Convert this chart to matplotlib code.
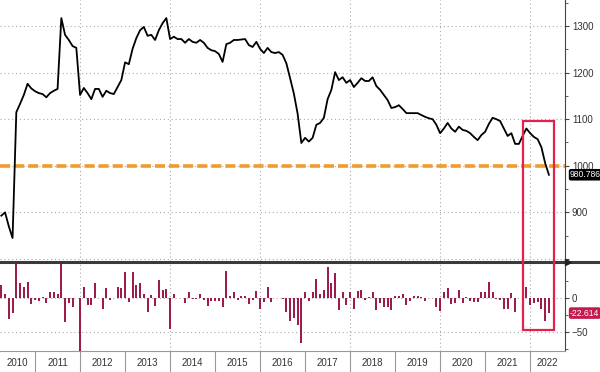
import matplotlib.pyplot as plt
import matplotlib.transforms as mtransforms
from matplotlib.patches import Rectangle
from matplotlib.lines import Line2D
import numpy as np

plt.rcParams['font.family'] = ['Liberation Sans', 'DejaVu Sans']

# months counted from Jan 2010 (0); series starts in April 2010
first_month = 3
index_level = [
    893, 900, 870, 845, 1115, 1133, 1152, 1176, 1166, 1160,
    1156, 1154, 1147, 1156, 1161, 1165, 1317, 1281, 1270, 1257,
    1253, 1152, 1167, 1156, 1143, 1165, 1165, 1148, 1161, 1156,
    1154, 1169, 1184, 1222, 1218, 1251, 1274, 1291, 1298, 1279,
    1281, 1270, 1291, 1306, 1317, 1272, 1277, 1272, 1272, 1264,
    1272, 1266, 1264, 1270, 1264, 1253, 1248, 1246, 1240, 1223,
    1261, 1264, 1270, 1270, 1271, 1272, 1259, 1255, 1266, 1251,
    1242, 1253, 1244, 1242, 1244, 1238, 1220, 1188, 1155, 1112,
    1049, 1060, 1052, 1060, 1088, 1092, 1103, 1143, 1163, 1201,
    1184, 1190, 1178, 1184, 1169, 1178, 1188, 1182, 1182, 1190,
    1171, 1163, 1152, 1141, 1124, 1126, 1130, 1122, 1113, 1113,
    1113, 1113, 1109, 1105, 1102, 1100, 1088, 1070, 1080, 1092,
    1080, 1073, 1084, 1077, 1075, 1070, 1062, 1055, 1066, 1073,
    1090, 1103, 1100, 1096, 1080, 1064, 1070, 1047, 1047, 1064,
    1080, 1070, 1062, 1057, 1040, 1006, 980.786,
]
monthly_change = [
    18, 5, -31, -23, 270, 21, 15, 23, -10, -4,
    -5, 1, -8, 8, 8, 5, 152, -36, -8, -14,
    -1, -100, 15, -11, -11, 21, 0, -17, 14, -3,
    -1, 16, 14, 38, -6, 38, 19, 21, 6, -21,
    4, -12, 26, 12, 13, -46, 5, -1, 0, -8,
    9, -2, -2, 6, -3, -12, -5, -5, -5, -14,
    39, 3, 8, -3, 2, 3, -10, -3, 10, -17,
    -7, 15, -6, 0, 0, -2, -21, -34, -30, -40,
    -66, 9, -5, 9, 28, 5, 11, 45, 22, 36,
    -18, 8, -11, 9, -16, 10, 11, -4, 1, 9,
    -18, -8, -13, -13, -18, 3, 3, 5, -11, -5,
    3, 2, 1, -5, 0, 0, -13, -19, 9, 14,
    -10, -8, 11, -8, 1, -5, -6, -6, 8, 9,
    23, 8, -2, -4, -16, -16, 7, -21, 0, 18,
    15, -11, -8, -6, -16, -35, -22.614,
]
years = list(range(2010, 2023))
trend_level = 1000
highlight_months = (142.2, 150.4)
highlight_top = 1097
highlight_bottom = -47.5

months = np.arange(first_month, first_month + len(index_level))
xmin, xmax = 2.65, 153.3

grid_kw = dict(color='#aaaaaa', lw=0.8, dashes=(1, 2.5))
tick_color = '#333333'

fig = plt.figure(figsize=(6, 3.72), dpi=100)
ax = fig.add_axes([0, 0.2984, 0.9417, 0.7016])
axb = fig.add_axes([0, 0.0565, 0.9417, 0.2392])

for a in (ax, axb):
    a.set_xlim(xmin, xmax)
    for s in ('top', 'left', 'bottom'):
        a.spines[s].set_visible(False)
    a.spines['right'].set_color('#444444')
    a.spines['right'].set_linewidth(0.8)
    a.yaxis.tick_right()
    a.tick_params(axis='y', which='major', length=3, width=0.8, colors='#444444',
                  labelcolor=tick_color, labelsize=7, pad=2)
    a.tick_params(axis='y', which='minor', length=2, width=0.6, colors='#444444')
    for y in years:
        if y % 2 == 0 and y > 2010:
            a.axvline((y - 2010) * 12, zorder=0, **grid_kw)

tag_kw = dict(color='white', fontsize=6.2, va='center', ha='left', clip_on=False, zorder=20)

# top panel
ax.set_ylim(795.7, 1355.8)
ax.set_yticks(range(800, 1301, 100))
ax.set_yticklabels([''] + [str(v) for v in range(900, 1301, 100)])
ax.set_yticks(range(850, 1351, 100), minor=True)
ax.set_xticks([])
for v in range(800, 1301, 100):
    ax.axhline(v, zorder=0, **grid_kw)
ax.axhline(trend_level, color='#f39a2c', lw=2.6, dashes=(2.8, 1.1), zorder=2)
ax.plot(months, index_level, color='black', lw=1.3, zorder=3)
ax.text(1.009, index_level[-1], f'{index_level[-1]:.3f}', transform=ax.get_yaxis_transform(),
        bbox=dict(boxstyle='round,pad=0.15,rounding_size=0.25', fc='black', ec='none'), **tag_kw)

# bottom panel
axb.set_ylim(-78.4, 52.5)
axb.set_yticks([-50, 0])
axb.set_yticks([-75, -25, 25, 50], minor=True)
for v in (-50, 0):
    axb.axhline(v, zorder=0, **grid_kw)
axb.bar(months, monthly_change, width=0.55, color='#9c1d4d', zorder=3)
axb.text(1.009, monthly_change[-1], f'{monthly_change[-1]:.3f}', transform=axb.get_yaxis_transform(),
         bbox=dict(boxstyle='round,pad=0.15,rounding_size=0.25', fc='#c41a4e', ec='none'), **tag_kw)

# x axis: year separators and centred year labels
axb.spines['bottom'].set_visible(True)
axb.spines['bottom'].set_color('#999999')
axb.spines['bottom'].set_linewidth(0.8)
bounds = [(y - 2010) * 12 for y in years[1:]]
axb.set_xticks(bounds)
axb.set_xticklabels([])
centers = [(max((y - 2010) * 12, xmin) + min((y - 2009) * 12, xmax)) / 2 for y in years]
axb.set_xticks(centers, minor=True)
axb.set_xticklabels([str(y) for y in years], minor=True)
axb.tick_params(axis='x', which='major', length=16, width=0.8, colors='#999999', direction='out')
axb.tick_params(axis='x', which='minor', length=0, labelsize=7, labelcolor=tick_color, pad=5)

# separator between panels
sep_y = 1 - 262 / 372
fig.add_artist(Line2D([0, 1], [sep_y, sep_y], transform=fig.transFigure,
                      color='#3a3a3a', lw=2.2))
fig.add_artist(Line2D([0.946], [sep_y], transform=fig.transFigure, marker='>',
                      markersize=4, color='#222222', lw=0))

# highlight box spanning both panels
fig.canvas.draw()
to_fig = fig.transFigure.inverted()
y_top = to_fig.transform(ax.transData.transform((xmin, highlight_top)))[1]
y_bot = to_fig.transform(axb.transData.transform((xmin, highlight_bottom)))[1]
blend = mtransforms.blended_transform_factory(ax.transData, fig.transFigure)
fig.add_artist(Rectangle((highlight_months[0], y_bot), highlight_months[1] - highlight_months[0],
                         y_top - y_bot, transform=blend, fill=False, ec='#e3204e', lw=1.6,
                         zorder=10))

fig.savefig('out.png', dpi=100)
